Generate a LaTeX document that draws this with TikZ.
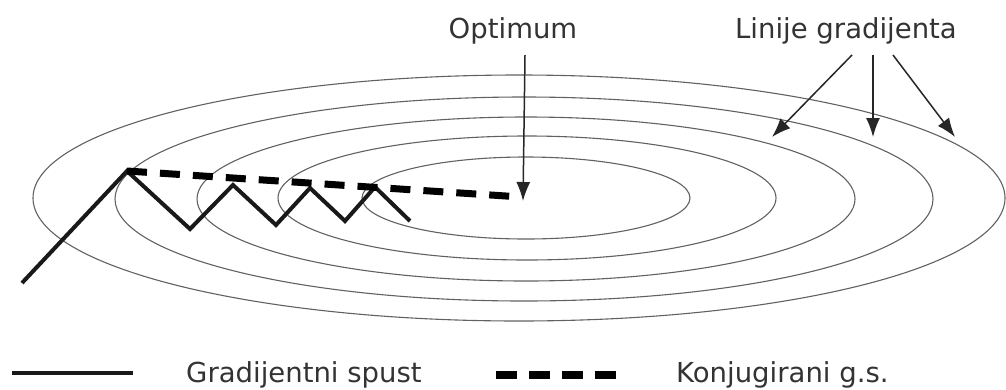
\documentclass[tikz,border=0pt]{standalone}
\usepackage{fontspec}
\setmainfont{DejaVu Sans}
\usetikzlibrary{arrows.meta}
\tikzset{
  contour/.style={line width=1.1pt, draw=black!62},
  gdpath/.style={line width=4pt, draw=black!90, line join=miter},
  cgpath/.style={line width=7pt, draw=black, dash pattern=on 20pt off 13pt},
  pointer/.style={line width=1.5pt, draw=black!85, -{Latex[length=19pt,width=14pt]}},
  lbl/.style={inner sep=0pt, font=\fontsize{27.5}{33}\selectfont, text=black!80},
}
\begin{document}
\begin{tikzpicture}[x=1pt,y=-1pt]
\useasboundingbox (0,0) rectangle (1006,389);
% contour ellipses
\draw[contour] (519,198) ellipse [x radius=486, y radius=123];
\draw[contour] (524,199) ellipse [x radius=409, y radius=102];
\draw[contour] (526,199) ellipse [x radius=329, y radius=82];
\draw[contour] (527,198) ellipse [x radius=249, y radius=62];
\draw[contour] (526,198) ellipse [x radius=164, y radius=41];
% gradient descent path
\coordinate (g0) at (22,283);
\coordinate (g1) at (127,171);
\coordinate (g2) at (190,229);
\coordinate (g3) at (233,185);
\coordinate (g4) at (276,225);
\coordinate (g5) at (310,188);
\coordinate (g6) at (345,221);
\coordinate (g7) at (375,187);
\coordinate (g8) at (410,221);
\draw[gdpath] (g0) -- (g1) -- (g2) -- (g3) -- (g4) -- (g5) -- (g6) -- (g7) -- (g8);
% conjugate gradient path
\coordinate (opt) at (521,197);
\draw[cgpath] (g1) -- (opt);
% labels
\node[lbl, anchor=base] (optlbl) at (513,38) {Optimum};
\node[lbl, anchor=base] (linlbl) at (846,38) {Linije gradijenta};
\coordinate (optstart) at (525,55);
\coordinate (opttip) at (523,201);
\draw[pointer] (optstart) -- (opttip);
\coordinate (a1) at (852,55);
\coordinate (a2) at (873,55);
\coordinate (a3) at (893,55);
\coordinate (t1) at (772,137);
\coordinate (t2) at (873,137);
\coordinate (t3) at (955,137);
\draw[pointer] (a1) -- (t1);
\draw[pointer] (a2) -- (t2);
\draw[pointer] (a3) -- (t3);
% legend
\coordinate (l1a) at (12,373);
\coordinate (l1b) at (133,373);
\draw[line width=4pt, draw=black!90] (l1a) -- (l1b);
\node[lbl, anchor=base west] (leg1) at (186,382) {Gradijentni spust};
\coordinate (l2a) at (496,375);
\coordinate (l2b) at (616,375);
\draw[line width=8pt, draw=black, dash pattern=on 21pt off 12pt] (l2a) -- (l2b);
\node[lbl, anchor=base west] (leg2) at (676,382) {Konjugirani g.s.};
\end{tikzpicture}
\end{document}
